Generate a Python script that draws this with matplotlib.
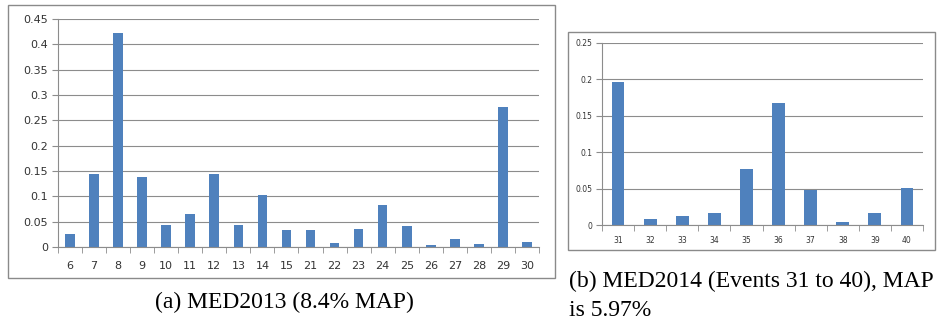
import matplotlib.pyplot as plt
import numpy as np
from matplotlib.patches import Rectangle

# MED2013 per-event AP
events_a = ["6", "7", "8", "9", "10", "11", "12", "13", "14", "15",
            "21", "22", "23", "24", "25", "26", "27", "28", "29", "30"]
ap_a = [0.025, 0.144, 0.423, 0.138, 0.044, 0.065, 0.144, 0.044, 0.103, 0.033,
        0.033, 0.0085, 0.035, 0.082, 0.041, 0.003, 0.016, 0.005, 0.277, 0.0105]
yticks_a = [0, 0.05, 0.1, 0.15, 0.2, 0.25, 0.3, 0.35, 0.4, 0.45]
ylabels_a = ["0", "0.05", "0.1", "0.15", "0.2", "0.25", "0.3", "0.35", "0.4", "0.45"]

# MED2014 per-event AP
events_b = ["31", "32", "33", "34", "35", "36", "37", "38", "39", "40"]
ap_b = [0.197, 0.0087, 0.012, 0.016, 0.0765, 0.168, 0.0476, 0.0037, 0.016, 0.0508]
yticks_b = [0, 0.05, 0.1, 0.15, 0.2, 0.25]
ylabels_b = ["0", "0.05", "0.1", "0.15", "0.2", "0.25"]

BAR = "#4F81BD"
GRID = "#8C8C8C"
TXT = "#333333"

fig = plt.figure(figsize=(9.38, 3.26), dpi=100)

# outer chart frames
fig.patches.append(Rectangle((0.0085, 0.1472), 0.5832, 0.8374, transform=fig.transFigure,
                             fill=False, edgecolor="#8a8a8a", linewidth=1.0))
fig.patches.append(Rectangle((0.6055, 0.2331), 0.3913, 0.6687, transform=fig.transFigure,
                             fill=False, edgecolor="#8a8a8a", linewidth=1.0))


def excel_bars(ax, cats, vals, yticks, ylabels, fs, xpad):
    x = np.arange(len(cats))
    ax.bar(x, vals, width=0.4, color=BAR, zorder=3)
    ax.set_xlim(-0.5, len(cats) - 0.5)
    ax.set_ylim(yticks[0], yticks[-1])
    ax.set_yticks(yticks)
    ax.set_yticklabels(ylabels, fontsize=fs, color=TXT)
    ax.set_xticks(x)
    ax.set_xticklabels(cats, fontsize=fs, color=TXT)
    ax.set_xticks(np.arange(len(cats) + 1) - 0.5, minor=True)
    ax.tick_params(axis="x", which="major", length=0, pad=xpad)
    ax.tick_params(axis="x", which="minor", length=4, color=GRID, direction="out")
    ax.tick_params(axis="y", length=4, color=GRID, pad=3)
    ax.yaxis.grid(True, color=GRID, linewidth=0.8, zorder=0)
    for s in ["top", "right"]:
        ax.spines[s].set_visible(False)
    for s in ["left", "bottom"]:
        ax.spines[s].set_color(GRID)
        ax.spines[s].set_linewidth(0.8)
        ax.spines[s].set_zorder(4)


ax1 = fig.add_axes([0.0618, 0.2423, 0.5128, 0.6994])
excel_bars(ax1, events_a, ap_a, yticks_a, ylabels_a, 8, 10)

ax2 = fig.add_axes([0.6418, 0.3098, 0.3422, 0.5583])
excel_bars(ax2, events_b, ap_b, yticks_b, ylabels_b, 5.5, 8)

fig.text(0.303, 0.071, "(a) MED2013 (8.4% MAP)", ha="center", va="center",
         fontsize=17, family="Liberation Serif")
fig.text(0.607, 0.138, "(b) MED2014 (Events 31 to 40), MAP", ha="left", va="center",
         fontsize=17, family="Liberation Serif")
fig.text(0.607, 0.049, "is 5.97%", ha="left", va="center",
         fontsize=17, family="Liberation Serif")

fig.savefig("out.png", dpi=100)
